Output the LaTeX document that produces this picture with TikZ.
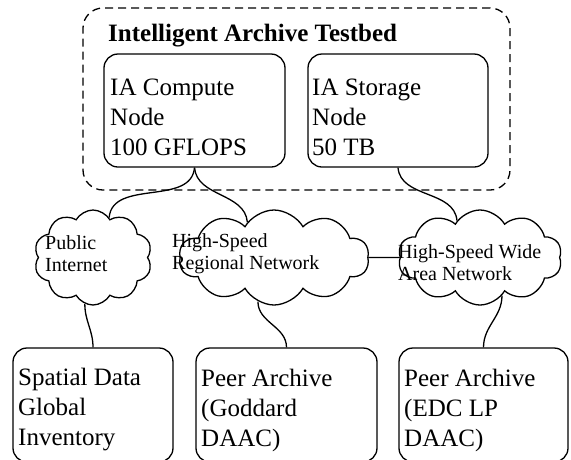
\documentclass[tikz,border=0pt]{standalone}
\usepackage{fontspec}
\setmainfont{Liberation Serif}
\usetikzlibrary{shapes.symbols}

\tikzset{
  box/.style={draw, line width=1.3pt, rounded corners=14pt},
  dashbox/.style={draw, line width=1.3pt, rounded corners=20pt, dash pattern=on 8pt off 5pt},
  net/.style={draw, cloud, cloud puffs=10, cloud puff arc=120, cloud ignores aspect, line width=1.3pt, inner sep=0pt},
  boxtext/.style={anchor=west, align=left, inner sep=0pt, font=\fontsize{25}{30}\selectfont},
  nettext/.style={anchor=west, align=left, inner sep=0pt, font=\fontsize{20}{22}\selectfont},
  link/.style={line width=1.3pt}
}

\begin{document}
\begin{tikzpicture}[x=1pt,y=-1pt]
    \useasboundingbox (0,0) rectangle (571,459);

    % 虚线框和标题
    \node[dashbox, minimum width=427pt, minimum height=182pt] (testbed) at (296.5,99) {};
    \node[anchor=west, inner sep=0pt, font=\fontsize{25}{30}\selectfont\bfseries] (title) at (108,36) {Intelligent Archive Testbed};

    % 上方两个节点
    \node[box, minimum width=181pt, minimum height=113pt] (compute) at (194.5,110.5) {};
    \node[box, minimum width=180pt, minimum height=113pt] (storage) at (398,110.5) {};
    \node[boxtext] (compute-txt) at (110,117) {IA Compute\\Node\\100 GFLOPS};
    \node[boxtext] (storage-txt) at (312,117) {IA Storage\\Node\\50 TB};

    % 三朵网络云
    \node[net, minimum width=118pt, minimum height=95pt] (pub) at (93,257.5) {};
    \node[net, minimum width=190pt, minimum height=95pt] (reg) at (274,257.5) {};
    \node[net, minimum width=164pt, minimum height=95pt] (wan) at (480,257.5) {};
    \node[nettext] (pub-txt) at (45,254) {Public\\Internet};
    \node[nettext] (reg-txt) at (172,254) {High-Speed\\Regional Network};
    \node[nettext] (wan-txt) at (398,263) {High-Speed Wide\\Area Network};

    % 下方三个档案
    \node[box, minimum width=160pt, minimum height=114pt] (spatial) at (93,405) {};
    \node[box, minimum width=181pt, minimum height=114pt] (goddard) at (286.5,405) {};
    \node[box, minimum width=169pt, minimum height=114pt] (edc) at (483.5,405) {};
    \node[boxtext] (spatial-txt) at (18,410) {Spatial Data\\Global\\Inventory};
    \node[boxtext] (goddard-txt) at (201,410) {Peer Archive\\(Goddard\\DAAC)};
    \node[boxtext] (edc-txt) at (404,410) {Peer Archive\\(EDC LP\\DAAC)};

    % 连线
    \draw[link] (compute.south) to[out=-95,in=85] (pub.68);
    \draw[link] (compute.south) to[out=-85,in=95] (reg.127);
    \draw[link] (storage.south) to[out=-85,in=95] (wan.122);
    \draw[link] (reg.east) -- (wan.west);
    \draw[link] (pub.260) to[out=-90,in=90] (spatial.north);
    \draw[link] (reg.250) to[out=-90,in=90] (goddard.north);
    \draw[link] (wan.300) to[out=-90,in=90] (edc.north);
\end{tikzpicture}
\end{document}
